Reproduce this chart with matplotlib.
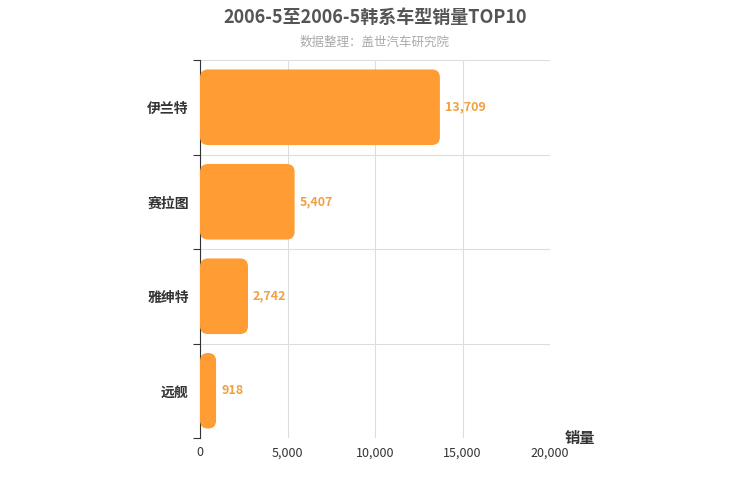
import matplotlib.pyplot as plt
from matplotlib.patches import FancyBboxPatch

plt.rcParams['font.family'] = ['Noto Sans CJK SC', 'DejaVu Sans']

models = ['伊兰特', '赛拉图', '雅绅特', '远舰']
sales = [13709, 5407, 2742, 918]
xticks = [0, 5000, 10000, 15000, 20000]

fig = plt.figure(figsize=(7.5, 5), dpi=100)
ax = fig.add_axes([200/750, 1-438/500, 350/750, 378/500])
ax.set_xlim(0, 20000)
ax.set_ylim(0, 4)

color = '#ff9c33'
n = len(models)
x_per_px = 20000/350
y_per_px = 4/378
for i, (m, v) in enumerate(zip(models, sales)):
    yc = n - 1 - i + 0.5
    h = 0.8
    p = FancyBboxPatch((0, yc - h/2), v, h,
                       boxstyle='round,pad=0,rounding_size=%f' % (8*x_per_px),
                       mutation_aspect=y_per_px/x_per_px,
                       fc=color, ec='none', zorder=3)
    ax.add_patch(p)
    ax.text(v + 5*x_per_px, yc, f'{v:,}', va='center', ha='left',
            color='#f0a040', fontsize=9, fontweight='bold', zorder=4)

ax.set_yticks(range(0, n+1))
ax.set_yticklabels([])
ax.set_yticks([k + 0.5 for k in range(n)], labels=models[::-1], minor=True)
ax.tick_params(axis='y', which='minor', length=0, labelsize=10, pad=8)
ax.tick_params(axis='y', which='major', length=5, color='#333333')
ax.set_xticks(xticks)
ax.set_xticklabels([f'{t:,}' for t in xticks], fontsize=9, color='#333333')
ax.tick_params(axis='x', length=0, pad=6)
ax.grid(True, which='major', color='#dddddd', lw=0.8, zorder=0)
for s in ['top', 'right', 'bottom']:
    ax.spines[s].set_visible(False)
ax.spines['left'].set_color('#333333')
for lbl in ax.get_yticklabels(minor=True):
    lbl.set_fontweight('bold')
    lbl.set_color('#333333')

fig.text(0.5, 1-17/500, '2006-5至2006-5韩系车型销量TOP10', ha='center', va='center',
         fontsize=13, fontweight='bold', color='#555555')
fig.text(0.5, 1-42/500, '数据整理：盖世汽车研究院', ha='center', va='center',
         fontsize=9, color='#aaaaaa')
fig.text(565/750, 1-438/500, '销量', ha='left', va='center', fontsize=11,
         fontweight='bold', color='#333333')

fig.savefig('out.png', dpi=100)
